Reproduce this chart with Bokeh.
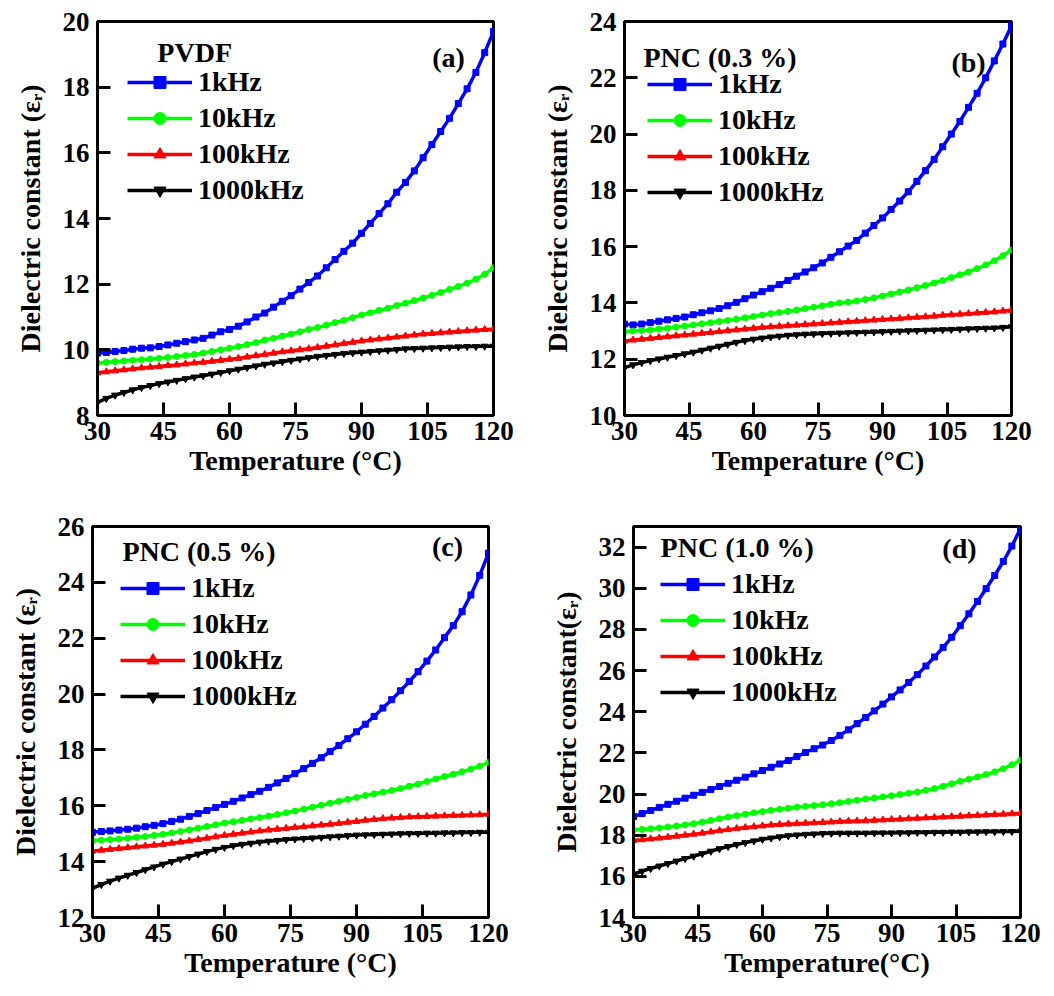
from bokeh.plotting import figure
from bokeh.models import Range1d, FixedTicker, Legend, LegendItem, Label
from bokeh.layouts import column, row
from bokeh.embed import file_html
from bokeh.resources import INLINE

T = list(range(30, 121, 2))

# Panel (a) PVDF
a_1k = [9.90, 9.92, 9.95, 9.98, 10.02, 10.05, 10.06, 10.10, 10.15, 10.20, 10.25, 10.30, 10.35, 10.45, 10.55, 10.62,
        10.72, 10.85, 11.00, 11.12, 11.30, 11.48, 11.65, 11.85, 12.05, 12.25, 12.50, 12.75, 13.00, 13.25, 13.55,
        13.85, 14.15, 14.45, 14.80, 15.10, 15.45, 15.85, 16.25, 16.65, 17.05, 17.50, 17.95, 18.45, 19.05, 19.70]
a_10k = [9.60, 9.62, 9.64, 9.66, 9.68, 9.70, 9.72, 9.74, 9.77, 9.80, 9.83, 9.86, 9.90, 9.95, 10.00, 10.05,
         10.10, 10.16, 10.22, 10.30, 10.35, 10.42, 10.48, 10.55, 10.62, 10.68, 10.75, 10.83, 10.90, 10.98, 11.06,
         11.13, 11.20, 11.27, 11.35, 11.42, 11.50, 11.58, 11.66, 11.75, 11.84, 11.93, 12.03, 12.15, 12.30, 12.50]
a_100k = [9.30, 9.33, 9.36, 9.39, 9.42, 9.45, 9.47, 9.49, 9.52, 9.54, 9.57, 9.60, 9.62, 9.65, 9.68, 9.71,
          9.74, 9.78, 9.82, 9.86, 9.90, 9.94, 9.97, 10.00, 10.03, 10.07, 10.11, 10.15, 10.19, 10.23, 10.27,
          10.30, 10.33, 10.36, 10.39, 10.42, 10.45, 10.48, 10.50, 10.52, 10.54, 10.56, 10.58, 10.60, 10.62, 10.63]
a_1000k = [8.40, 8.52, 8.62, 8.70, 8.78, 8.85, 8.91, 8.97, 9.02, 9.07, 9.12, 9.17, 9.21, 9.26, 9.31, 9.36,
           9.41, 9.46, 9.51, 9.56, 9.60, 9.64, 9.68, 9.72, 9.76, 9.80, 9.83, 9.86, 9.89, 9.91, 9.93,
           9.95, 9.97, 9.99, 10.01, 10.03, 10.04, 10.05, 10.06, 10.07, 10.08, 10.09, 10.10, 10.10, 10.11, 10.11]

# Panel (b) PNC (0.3 %)
b_1k = [13.25, 13.22, 13.25, 13.30, 13.35, 13.40, 13.45, 13.50, 13.58, 13.65, 13.72, 13.80, 13.90, 14.02, 14.15, 14.28,
        14.40, 14.52, 14.65, 14.80, 14.95, 15.10, 15.25, 15.42, 15.62, 15.82, 16.02, 16.22, 16.48, 16.75, 17.02,
        17.32, 17.62, 17.95, 18.32, 18.70, 19.10, 19.55, 20.00, 20.45, 20.95, 21.45, 22.00, 22.60, 23.20, 23.85]
b_10k = [12.98, 13.00, 13.02, 13.04, 13.07, 13.10, 13.14, 13.18, 13.22, 13.26, 13.30, 13.34, 13.38, 13.42, 13.47, 13.52,
         13.57, 13.62, 13.66, 13.70, 13.75, 13.80, 13.85, 13.90, 13.95, 14.00, 14.03, 14.07, 14.12, 14.18, 14.25,
         14.32, 14.39, 14.46, 14.54, 14.62, 14.71, 14.80, 14.90, 15.00, 15.10, 15.22, 15.35, 15.50, 15.68, 15.88]
b_100k = [12.65, 12.68, 12.71, 12.74, 12.77, 12.80, 12.83, 12.86, 12.89, 12.92, 12.95, 12.98, 13.01, 13.04, 13.07, 13.10,
          13.13, 13.15, 13.17, 13.19, 13.21, 13.23, 13.25, 13.27, 13.29, 13.31, 13.33, 13.35, 13.37, 13.39, 13.41,
          13.43, 13.45, 13.47, 13.49, 13.51, 13.53, 13.56, 13.58, 13.60, 13.62, 13.64, 13.66, 13.68, 13.71, 13.74]
b_1000k = [11.70, 11.80, 11.88, 11.95, 12.01, 12.07, 12.13, 12.19, 12.25, 12.32, 12.39, 12.46, 12.53, 12.60, 12.66, 12.71,
           12.75, 12.79, 12.82, 12.85, 12.87, 12.89, 12.90, 12.91, 12.92, 12.93, 12.94, 12.95, 12.96, 12.97, 12.98,
           12.99, 13.00, 13.01, 13.02, 13.03, 13.04, 13.05, 13.06, 13.07, 13.08, 13.09, 13.10, 13.11, 13.13, 13.15]

# Panel (c) PNC (0.5 %)
c_1k = [15.05, 15.08, 15.10, 15.13, 15.16, 15.20, 15.25, 15.30, 15.36, 15.44, 15.52, 15.62, 15.72, 15.83, 15.94, 16.05,
        16.16, 16.28, 16.40, 16.52, 16.66, 16.82, 16.98, 17.15, 17.33, 17.52, 17.72, 17.94, 18.16, 18.40, 18.65,
        18.92, 19.20, 19.50, 19.80, 20.12, 20.45, 20.80, 21.18, 21.58, 22.02, 22.45, 22.95, 23.55, 24.25, 25.05]
c_10k = [14.75, 14.77, 14.79, 14.81, 14.84, 14.87, 14.90, 14.94, 14.98, 15.03, 15.08, 15.14, 15.20, 15.26, 15.32, 15.38,
         15.43, 15.48, 15.53, 15.58, 15.63, 15.69, 15.75, 15.81, 15.88, 15.95, 16.02, 16.09, 16.16, 16.23, 16.30,
         16.37, 16.43, 16.49, 16.55, 16.62, 16.70, 16.78, 16.87, 16.96, 17.05, 17.13, 17.22, 17.31, 17.42, 17.55]
c_100k = [14.38, 14.41, 14.44, 14.47, 14.50, 14.53, 14.56, 14.59, 14.62, 14.66, 14.70, 14.74, 14.79, 14.84, 14.89, 14.94,
          14.98, 15.02, 15.06, 15.10, 15.13, 15.16, 15.19, 15.22, 15.25, 15.28, 15.31, 15.34, 15.37, 15.41, 15.44,
          15.48, 15.51, 15.54, 15.56, 15.58, 15.60, 15.61, 15.62, 15.63, 15.64, 15.65, 15.66, 15.67, 15.68, 15.70]
c_1000k = [13.05, 13.18, 13.30, 13.41, 13.51, 13.61, 13.71, 13.81, 13.91, 14.00, 14.09, 14.18, 14.27, 14.36, 14.44, 14.51,
           14.57, 14.62, 14.66, 14.70, 14.73, 14.76, 14.79, 14.81, 14.83, 14.85, 14.87, 14.89, 14.91, 14.93, 14.95,
           14.96, 14.97, 14.98, 14.99, 15.00, 15.01, 15.01, 15.02, 15.02, 15.03, 15.03, 15.04, 15.04, 15.05, 15.05]

# Panel (d) PNC (1.0 %)
d_1k = [18.90, 19.05, 19.20, 19.35, 19.50, 19.65, 19.80, 19.94, 20.08, 20.22, 20.37, 20.52, 20.67, 20.82, 20.98, 21.14,
        21.30, 21.46, 21.63, 21.82, 22.02, 22.20, 22.38, 22.60, 22.85, 23.12, 23.42, 23.72, 24.04, 24.37, 24.72,
        25.06, 25.42, 25.80, 26.22, 26.66, 27.12, 27.62, 28.18, 28.76, 29.36, 29.98, 30.62, 31.30, 32.05, 32.90]
d_10k = [18.25, 18.28, 18.31, 18.35, 18.40, 18.45, 18.50, 18.56, 18.64, 18.72, 18.80, 18.88, 18.95, 19.02, 19.09, 19.15,
         19.21, 19.26, 19.31, 19.36, 19.40, 19.44, 19.48, 19.53, 19.58, 19.64, 19.70, 19.76, 19.81, 19.86, 19.92,
         19.98, 20.04, 20.10, 20.18, 20.27, 20.38, 20.50, 20.62, 20.72, 20.83, 20.95, 21.08, 21.23, 21.42, 21.65]
d_100k = [17.75, 17.78, 17.82, 17.86, 17.90, 17.95, 18.00, 18.05, 18.10, 18.16, 18.22, 18.27, 18.32, 18.37, 18.41, 18.45,
          18.49, 18.52, 18.54, 18.56, 18.58, 18.60, 18.62, 18.64, 18.66, 18.68, 18.69, 18.70, 18.72, 18.74, 18.76,
          18.78, 18.80, 18.82, 18.84, 18.86, 18.88, 18.90, 18.92, 18.94, 18.96, 18.98, 19.00, 19.02, 19.04, 19.06]
d_1000k = [16.10, 16.25, 16.38, 16.50, 16.62, 16.74, 16.86, 16.98, 17.10, 17.22, 17.34, 17.45, 17.55, 17.64, 17.72, 17.80,
           17.86, 17.92, 17.97, 18.01, 18.04, 18.06, 18.08, 18.09, 18.10, 18.10, 18.10, 18.10, 18.11, 18.11, 18.11,
           18.12, 18.12, 18.13, 18.13, 18.14, 18.14, 18.15, 18.15, 18.16, 18.16, 18.17, 18.17, 18.18, 18.18, 18.19]

freq_labels = ["1kHz", "10kHz", "100kHz", "1000kHz"]
x_ticks = [30, 45, 60, 75, 90, 105, 120]

FONT = "Liberation Serif"
FS_TICK = "27px"
FS = "28px"
colors = ["#0000FF", "#00FF00", "#FF0000", "#000000"]
markers = ["square", "circle", "triangle", "inverted_triangle"]
msizes = [6, 6, 7, 7]


def panel(series, ylo, yhi, yticks, xlabel, ylabel, title, tag,
          width, height, bl, br, bt, bb, leg_x, leg_y, title_xy, tag_xy):
    p = figure(width=width, height=height, x_range=Range1d(30, 120), y_range=Range1d(ylo, yhi),
               output_backend="svg", toolbar_location=None,
               min_border_left=bl, min_border_right=br, min_border_top=bt, min_border_bottom=bb)
    p.grid.visible = False
    p.outline_line_color = "black"
    p.outline_line_width = 3
    p.outline_line_alpha = 1
    p.background_fill_color = "white"
    p.border_fill_color = "white"
    p.xaxis.ticker = FixedTicker(ticks=x_ticks)
    p.yaxis.ticker = FixedTicker(ticks=yticks)
    for ax in (p.xaxis[0], p.yaxis[0]):
        ax.axis_line_width = 3
        ax.axis_line_color = "black"
        ax.major_tick_in = 13
        ax.major_tick_out = 0
        ax.major_tick_line_width = 3
        ax.minor_tick_line_color = None
        ax.major_label_text_font = FONT
        ax.major_label_text_font_style = "bold"
        ax.major_label_text_font_size = FS_TICK
        ax.major_label_text_color = "black"
        ax.axis_label_text_font = FONT
        ax.axis_label_text_font_style = "bold"
        ax.axis_label_text_font_size = FS
        ax.axis_label_text_color = "black"
    p.xaxis.axis_label = xlabel
    p.yaxis.axis_label = ylabel
    p.xaxis.major_label_standoff = 6
    p.yaxis.major_label_standoff = 8
    p.xaxis.axis_label_standoff = 2
    p.yaxis.axis_label_standoff = 14

    items = []
    for ys, lab, c, m, ms in zip(series, freq_labels, colors, markers, msizes):
        lr = p.line(T, ys, line_color=c, line_width=3.5)
        sr = p.scatter(T, ys, marker=m, size=ms, fill_color=c, line_color=c)
        items.append(LegendItem(label=lab, renderers=[lr, sr]))
    leg = Legend(items=items, location=(leg_x, leg_y))
    leg.label_text_font = FONT
    leg.label_text_font_style = "bold"
    leg.label_text_font_size = FS
    leg.label_text_color = "black"
    leg.glyph_width = 65
    leg.glyph_height = 30
    leg.label_height = 30
    leg.spacing = 4
    leg.padding = 0
    leg.margin = 0
    leg.label_standoff = 6
    leg.border_line_alpha = 0
    leg.background_fill_alpha = 0
    p.add_layout(leg, "center")

    p.add_layout(Label(x=title_xy[0], y=title_xy[1], text=title, text_font=FONT, text_font_style="bold",
                       text_font_size=FS, text_align="left", text_baseline="middle", text_color="black"))
    p.add_layout(Label(x=tag_xy[0], y=tag_xy[1], text=tag, text_font=FONT, text_font_style="bold",
                       text_font_size=FS, text_align="center", text_baseline="middle", text_color="black"))
    return p


pa = panel([a_1k, a_10k, a_100k, a_1000k], 8, 20, list(range(8, 21, 2)),
           "Temperature (°C)", "Dielectric constant (εᵣ)", "PVDF", "(a)",
           520, 500, 97, 27, 21, 83, 30, 209, (43.6, 19.06), (109.8, 18.9))
pb = panel([b_1k, b_10k, b_100k, b_1000k], 10, 24, list(range(10, 25, 2)),
           "Temperature (°C)", "Dielectric constant (εᵣ)", "PNC (0.3 %)", "(b)",
           534, 500, 104, 43, 19, 85, 23, 207, (34.4, 22.73), (110.0, 22.55))
pc = panel([c_1k, c_10k, c_100k, c_1000k], 12, 26, list(range(12, 27, 2)),
           "Temperature (°C)", "Dielectric constant (εᵣ)", "PNC (0.5 %)", "(c)",
           520, 496, 92, 32, 22, 79, 28, 205, (36.8, 25.11), (110.7, 25.29))
pd_ = panel([d_1k, d_10k, d_100k, d_1000k], 14, 33, list(range(14, 33, 2)),
            "Temperature(°C)", "Dielectric constant(εᵣ)", "PNC (1.0 %)", "(d)",
            534, 496, 113, 34, 26, 75, 27, 209, (36.3, 31.99), (105.8, 31.94))

layout = column(row(pa, pb), row(pc, pd_))
open("out.html", "w").write(file_html(layout, INLINE))
